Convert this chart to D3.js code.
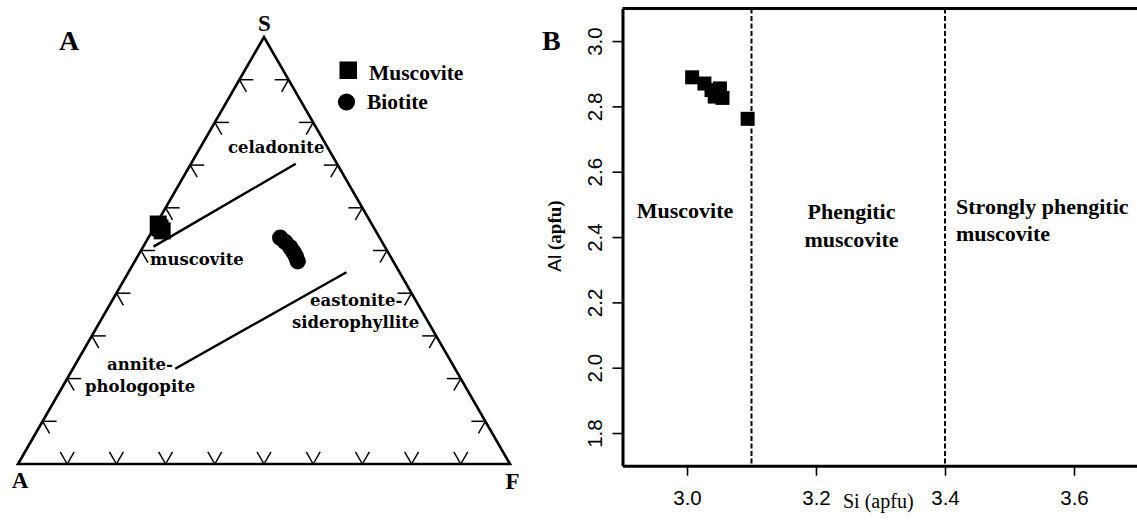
<!DOCTYPE html>
<html>
<head>
<meta charset="utf-8">
<script src="https://cdn.jsdelivr.net/npm/d3@7"></script>
<style>
  html, body { margin: 0; padding: 0; background: #fff; }
  svg { display: block; }
</style>
</head>
<body>
<svg id="chart" width="1137" height="520"></svg>
<script>
// ---------- Panel A: S–A–F ternary compositions ----------
const muscS = [0.562, 0.553, 0.546];
const muscA = [0.434, 0.435, 0.434];
const muscF = [0.004, 0.012, 0.020];

const biotS = [0.530, 0.520, 0.508, 0.497, 0.487, 0.475];
const biotA = [0.202, 0.197, 0.193, 0.192, 0.192, 0.194];
const biotF = [0.268, 0.283, 0.299, 0.311, 0.321, 0.331];

// field boundaries (start / end compositions)
const boundaryS = [[0.509, 0.703], [0.223, 0.449]];
const boundaryF = [[0.021, 0.213], [0.208, 0.443]];

const vertexNames = ["S", "A", "F"];
const tickFractions = [0.1, 0.2, 0.3, 0.4, 0.5, 0.6, 0.7, 0.8, 0.9];

// ---------- Panel B: Si vs Al (apfu) ----------
const muscSi = [3.008, 3.027, 3.038, 3.051, 3.043, 3.055, 3.094];
const muscAl = [2.889, 2.870, 2.850, 2.855, 2.830, 2.826, 2.762];
const siTicks = [3.0, 3.2, 3.4, 3.6];
const alTicks = [1.8, 2.0, 2.2, 2.4, 2.6, 2.8, 3.0];
const fieldLimits = [3.1, 3.4];

const SERIF = "'Liberation Serif', 'Times New Roman', serif";
const SANS = "'Liberation Sans', Arial, Helvetica, sans-serif";
const SLAB = "'DejaVu Serif', serif";

const svg = d3.select("#chart");
svg.append("rect").attr("width", 1137).attr("height", 520).attr("fill", "#fff");

// ======================= Panel A =======================
const gA = svg.append("g");
// horizontal position from (f + s/2), vertical from s
const tx = d3.scaleLinear().domain([0, 1]).range([18, 510]);
const ty = d3.scaleLinear().domain([0, 1]).range([464, 37]);
const proj = (s, f) => [tx(f + s / 2), ty(s)];

const vS = proj(1, 0), vA = proj(0, 0), vF = proj(0, 1);
gA.append("path")
  .attr("d", d3.line()([vA, vS, vF, vA]) + "Z")
  .attr("fill", "none").attr("stroke", "#000").attr("stroke-width", 2.6)
  .attr("stroke-linejoin", "miter");

// unit directions along edges (pixel space)
function unit(p, q) {
  const dx = q[0] - p[0], dy = q[1] - p[1], L = Math.hypot(dx, dy);
  return [dx / L, dy / L];
}
const dAS = unit(vA, vS), dFS = unit(vF, vS), dSF = unit(vS, vF), dSA = unit(vS, vA);
const TL = 14;
const tickSegs = [];
tickFractions.forEach(t => {
  const pb = proj(0, t);          // base A–F
  tickSegs.push([pb, [pb[0] + dAS[0] * TL, pb[1] + dAS[1] * TL]]);
  tickSegs.push([pb, [pb[0] + dFS[0] * TL, pb[1] + dFS[1] * TL]]);
  const pl = proj(t, 0);          // left edge A–S
  tickSegs.push([pl, [pl[0] + TL, pl[1]]]);
  tickSegs.push([pl, [pl[0] + dSF[0] * TL, pl[1] + dSF[1] * TL]]);
  const pr = proj(t, 1 - t);      // right edge F–S
  tickSegs.push([pr, [pr[0] - TL, pr[1]]]);
  tickSegs.push([pr, [pr[0] + dSA[0] * TL, pr[1] + dSA[1] * TL]]);
});
gA.selectAll("line.tick").data(tickSegs).join("line")
  .attr("class", "tick")
  .attr("x1", d => d[0][0]).attr("y1", d => d[0][1])
  .attr("x2", d => d[1][0]).attr("y2", d => d[1][1])
  .attr("stroke", "#000").attr("stroke-width", 1.5);

// field boundaries
gA.selectAll("line.bound").data(boundaryS).join("line")
  .attr("class", "bound")
  .attr("x1", (d, i) => proj(d[0], boundaryF[i][0])[0])
  .attr("y1", (d, i) => proj(d[0], boundaryF[i][0])[1])
  .attr("x2", (d, i) => proj(d[1], boundaryF[i][1])[0])
  .attr("y2", (d, i) => proj(d[1], boundaryF[i][1])[1])
  .attr("stroke", "#000").attr("stroke-width", 2.4);

// vertex labels
const vLab = [
  { t: vertexNames[0], x: vS[0] + 0.5, y: 30.5 },
  { t: vertexNames[1], x: 20, y: 488 },
  { t: vertexNames[2], x: 512.5, y: 489 }
];
gA.selectAll("text.vtx").data(vLab).join("text")
  .attr("class", "vtx")
  .attr("x", d => d.x).attr("y", d => d.y)
  .attr("text-anchor", "middle")
  .attr("font-family", SERIF).attr("font-weight", "bold").attr("font-size", 23)
  .text(d => d.t);

// field names
const fieldNames = [
  { t: "celadonite", x: 228, y: 153 },
  { t: "muscovite", x: 150, y: 265 },
  { t: "eastonite-", x: 310, y: 306 },
  { t: "siderophyllite", x: 292, y: 328 },
  { t: "annite-", x: 107, y: 370 },
  { t: "phologopite", x: 85, y: 392 }
];
gA.selectAll("text.field").data(fieldNames).join("text")
  .attr("class", "field")
  .attr("x", d => d.x).attr("y", d => d.y)
  .attr("font-family", SLAB).attr("font-weight", "bold").attr("font-size", 16.5)
  .text(d => d.t);

// biotite
gA.selectAll("circle.bt").data(biotS).join("circle")
  .attr("class", "bt")
  .attr("cx", (d, i) => proj(d, biotF[i])[0])
  .attr("cy", (d, i) => proj(d, biotF[i])[1])
  .attr("r", 8.2).attr("fill", "#000");

// muscovite
const SQ = 17;
gA.selectAll("rect.ms").data(muscS).join("rect")
  .attr("class", "ms")
  .attr("x", (d, i) => proj(d, muscF[i])[0] - SQ / 2)
  .attr("y", (d, i) => proj(d, muscF[i])[1] - SQ / 2)
  .attr("width", SQ).attr("height", SQ).attr("fill", "#000");

// legend
const leg = gA.append("g");
leg.append("rect").attr("x", 339.5).attr("y", 61.5).attr("width", 17.5).attr("height", 17.5).attr("fill", "#000");
leg.append("circle").attr("cx", 346.5).attr("cy", 102).attr("r", 8.6).attr("fill", "#000");
leg.append("text").attr("x", 369).attr("y", 80)
  .attr("font-family", SERIF).attr("font-weight", "bold").attr("font-size", 21.5).text("Muscovite");
leg.append("text").attr("x", 367).attr("y", 109)
  .attr("font-family", SERIF).attr("font-weight", "bold").attr("font-size", 21.5).text("Biotite");

// panel letter
svg.append("text").attr("x", 59).attr("y", 50)
  .attr("font-family", SERIF).attr("font-weight", "bold").attr("font-size", 28).text("A");

// ======================= Panel B =======================
const gB = svg.append("g");
const x = d3.scaleLinear().domain([2.9, 3.7]).range([622.5, 1138.5]);
const y = d3.scaleLinear().domain([1.7, 3.1]).range([465.7, 8.4]);

// frame top
gB.append("line")
  .attr("x1", x(2.9)).attr("x2", x(3.7)).attr("y1", y(3.1)).attr("y2", y(3.1))
  .attr("stroke", "#000").attr("stroke-width", 3);

// field limits
gB.selectAll("line.lim").data(fieldLimits).join("line")
  .attr("class", "lim")
  .attr("x1", d => x(d)).attr("x2", d => x(d))
  .attr("y1", y(3.1)).attr("y2", y(1.7))
  .attr("stroke", "#000").attr("stroke-width", 2)
  .attr("stroke-dasharray", "5,2.5");

// axes
const xAxis = gB.append("g").attr("transform", `translate(0,${y(1.7)})`)
  .call(d3.axisBottom(x).tickValues(siTicks).tickFormat(d3.format(".1f")).tickSize(10).tickSizeOuter(0).tickPadding(9));
const yAxis = gB.append("g").attr("transform", `translate(${x(2.9)},0)`)
  .call(d3.axisLeft(y).tickValues(alTicks).tickFormat(d3.format(".1f")).tickSize(10).tickSizeOuter(0));

[xAxis, yAxis].forEach(ax => {
  ax.select(".domain").attr("stroke", "#000").attr("stroke-width", 3);
  ax.selectAll(".tick line").attr("stroke", "#000").attr("stroke-width", 1.6);
  ax.selectAll(".tick text").attr("fill", "#000")
    .attr("font-family", SANS).attr("font-size", 20.5);
});
xAxis.selectAll(".tick text").attr("dy", null).attr("y", 39).attr("text-anchor", "middle");
yAxis.selectAll(".tick text")
  .attr("x", 0).attr("y", -21).attr("dy", null)
  .attr("transform", "rotate(-90)")
  .attr("text-anchor", "middle");

// axis titles
const yt = gB.append("text")
  .attr("transform", "translate(561,236) rotate(-90)")
  .attr("text-anchor", "middle").attr("font-size", 19);
yt.append("tspan").attr("font-family", SANS).text("Al");
yt.append("tspan").attr("font-family", SERIF).attr("font-weight", "bold").text(" (apfu)");

gB.append("text").attr("x", 843).attr("y", 508)
  .attr("font-family", SERIF).attr("font-size", 20).text("Si (apfu)");

// field names
const fieldB = [
  { t: "Muscovite", si: 2.997, y: 218, anchor: "middle" },
  { t: "Phengitic", si: 3.255, y: 219, anchor: "middle" },
  { t: "muscovite", si: 3.255, y: 247, anchor: "middle" },
  { t: "Strongly phengitic", si: 3.417, y: 214, anchor: "start" },
  { t: "muscovite", si: 3.417, y: 241, anchor: "start" }
];
gB.selectAll("text.fb").data(fieldB).join("text")
  .attr("class", "fb")
  .attr("x", d => x(d.si)).attr("y", d => d.y)
  .attr("text-anchor", d => d.anchor)
  .attr("font-family", SERIF).attr("font-weight", "bold").attr("font-size", 22)
  .text(d => d.t);

// data
const SQB = 14;
gB.selectAll("rect.pt").data(muscSi).join("rect")
  .attr("class", "pt")
  .attr("x", d => x(d) - SQB / 2)
  .attr("y", (d, i) => y(muscAl[i]) - SQB / 2)
  .attr("width", SQB).attr("height", SQB).attr("fill", "#000");

// panel letter
svg.append("text").attr("x", 542).attr("y", 50)
  .attr("font-family", SERIF).attr("font-weight", "bold").attr("font-size", 28).text("B");
</script>
</body>
</html>
